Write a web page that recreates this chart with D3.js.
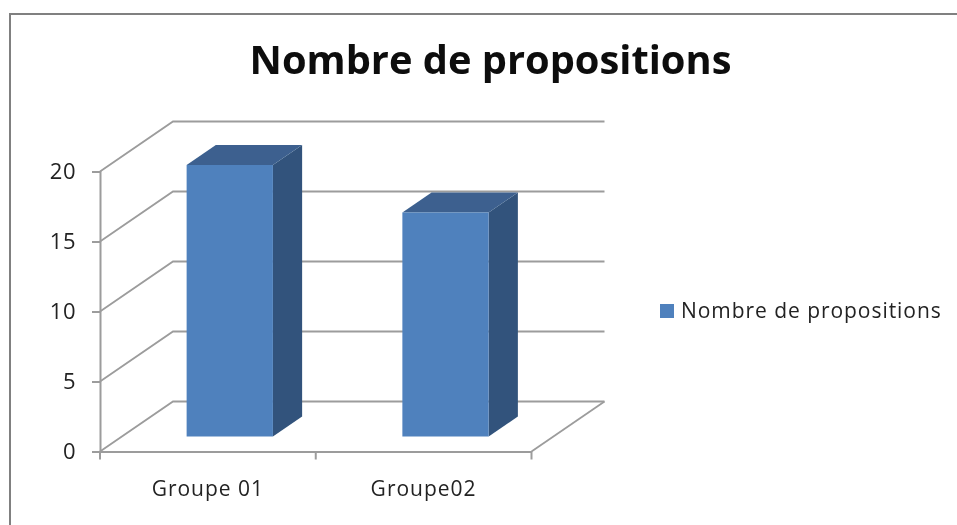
<!DOCTYPE html>
<html>
<head>
<meta charset="utf-8">
<script src="https://cdn.jsdelivr.net/npm/d3@7"></script>
<style>
  html, body { margin: 0; padding: 0; background: #fff; }
  svg { display: block; }
  text { font-family: "Open Sans", sans-serif; fill: #222; }
</style>
</head>
<body>
<svg width="957" height="525"></svg>
<script>
var categories = ["Groupe 01", "Groupe02"];
var values = [19.4, 16];
var yTicks = [0, 5, 10, 15, 20];
var seriesName = "Nombre de propositions";
var chartTitle = "Nombre de propositions";

var svg = d3.select("svg");

// the reference is a soft, upscaled screenshot
var soft = svg.append("defs").append("filter")
    .attr("id", "soft")
    .attr("x", 0).attr("y", 0)
    .attr("filterUnits", "userSpaceOnUse")
    .attr("width", 957).attr("height", 525);
soft.append("feGaussianBlur").attr("stdDeviation", 0.5);

var root = svg.append("g").attr("filter", "url(#soft)");

var x = d3.scaleBand().domain(categories).range([100, 531.5])
    .paddingInner(0.6).paddingOuter(0.3);
var y = d3.scaleLinear().domain([0, 20]).range([451.5, 171.5]);

// depth 0 = front of the floor, 1 = back wall
var depthX = 73, depthY = -50;
var barFront = 0.3, barBack = 0.7;

function pt(px, v, depth) {
  return [px + depth * depthX, y(v) + depth * depthY];
}

function poly(points) {
  return points.map(function(p) { return p.join(","); }).join(" ");
}

var gridColor = "#9c9c9c";

// frame
root.append("path")
    .attr("d", "M10,525V14H957")
    .attr("fill", "none")
    .attr("stroke", "#808080")
    .attr("stroke-width", 2);

// walls and gridlines
var xLeft = x.range()[0], xRight = x.range()[1];
var grid = root.append("g")
    .attr("fill", "none")
    .attr("stroke", gridColor)
    .attr("stroke-width", 1.8);

grid.selectAll("polyline")
    .data(yTicks)
  .enter().append("polyline")
    .attr("points", function(d) {
      return poly([pt(xLeft, d, 0), pt(xLeft, d, 1), pt(xRight, d, 1)]);
    });

grid.append("polyline")
    .attr("points", poly([pt(xRight, 0, 1), pt(xRight, 0, 0)]));

// axes
var axisY = root.append("g")
    .attr("transform", "translate(" + xLeft + ",0)")
    .call(d3.axisLeft(y).tickValues(yTicks).tickSize(8).tickPadding(16));

var axisX = root.append("g")
    .attr("transform", "translate(0," + y(0) + ")")
    .call(d3.axisBottom(x).tickSize(0).tickPadding(30));

axisX.selectAll("g.boundary")
    .data([xLeft, xLeft + (xRight - xLeft) / 2, xRight])
  .enter().append("line")
    .attr("x1", function(d) { return d; })
    .attr("x2", function(d) { return d; })
    .attr("y1", 0)
    .attr("y2", 8);

root.selectAll(".domain, .tick line")
    .attr("stroke", gridColor)
    .attr("stroke-width", 2);
axisX.selectAll("line").attr("stroke", gridColor).attr("stroke-width", 2);

axisY.selectAll("text").attr("font-size", 22).attr("font-family", null).attr("letter-spacing", 0.5);
axisX.selectAll("text").attr("font-size", 21).attr("font-family", null).attr("letter-spacing", 1);

// bars
var bars = root.append("g").selectAll("g")
    .data(categories)
  .enter().append("g");

function barLeft(d) { return x(d); }
function barRight(d) { return x(d) + x.bandwidth(); }
function val(d) { return values[categories.indexOf(d)]; }

bars.append("polygon")
    .attr("fill", "#31537b")
    .attr("points", function(d) {
      return poly([
        pt(barRight(d), 0, barFront), pt(barRight(d), 0, barBack),
        pt(barRight(d), val(d), barBack), pt(barRight(d), val(d), barFront)
      ]);
    });

bars.append("polygon")
    .attr("fill", "#3c618f")
    .attr("points", function(d) {
      return poly([
        pt(barLeft(d), val(d), barFront), pt(barLeft(d), val(d), barBack),
        pt(barRight(d), val(d), barBack), pt(barRight(d), val(d), barFront)
      ]);
    });

bars.append("polygon")
    .attr("fill", "#4f81bd")
    .attr("points", function(d) {
      return poly([
        pt(barLeft(d), 0, barFront), pt(barRight(d), 0, barFront),
        pt(barRight(d), val(d), barFront), pt(barLeft(d), val(d), barFront)
      ]);
    });

// title
root.append("text")
    .attr("x", 490.5)
    .attr("y", 74)
    .attr("text-anchor", "middle")
    .attr("font-size", 39.8)
    .attr("font-weight", 700)
    .style("fill", "#0a0a0a")
    .text(chartTitle);

// legend
root.append("rect")
    .attr("x", 660)
    .attr("y", 304)
    .attr("width", 14)
    .attr("height", 14)
    .attr("fill", "#4f81bd");

root.append("text")
    .attr("x", 681)
    .attr("y", 318)
    .attr("font-size", 21)
    .attr("letter-spacing", 0.95)
    .text(seriesName);
</script>
</body>
</html>
